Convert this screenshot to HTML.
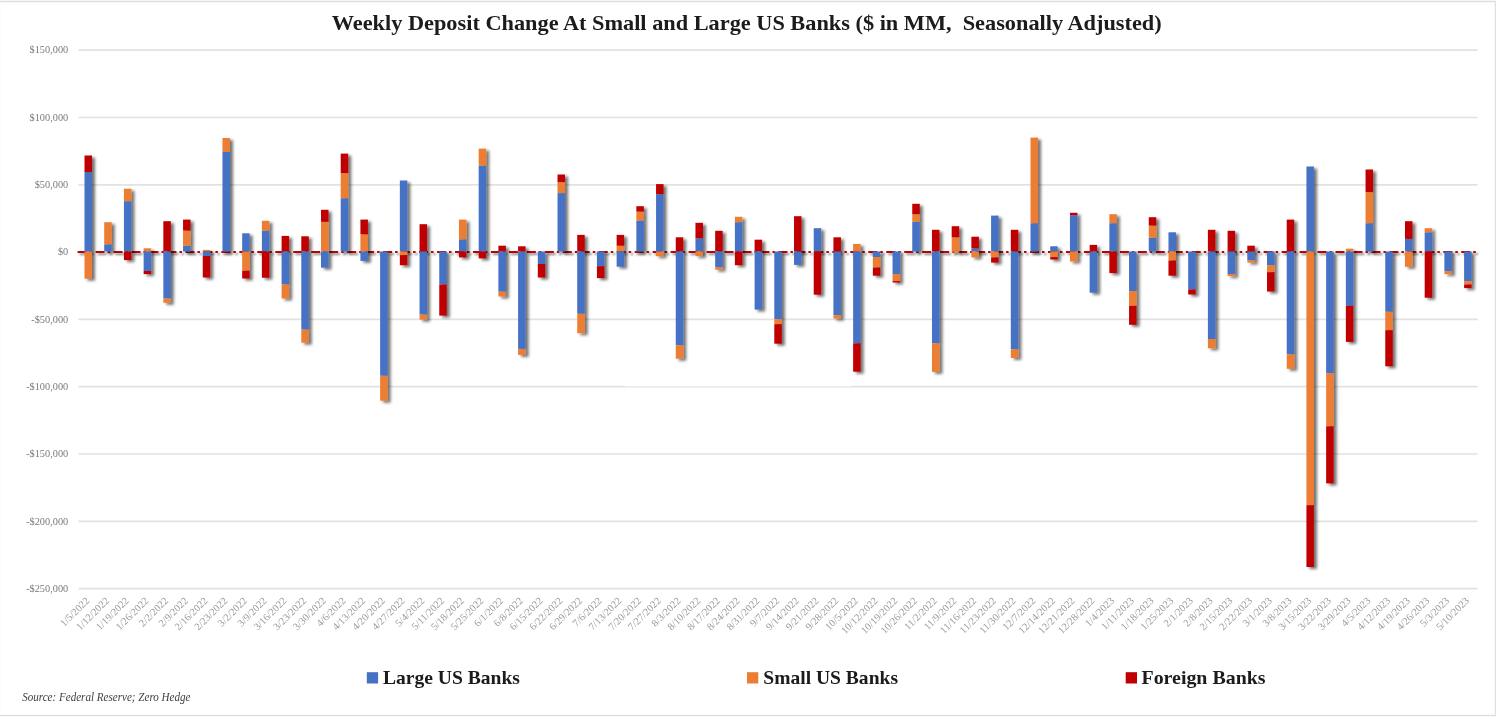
<!DOCTYPE html>
<html lang="en"><head><meta charset="utf-8"><title>Weekly Deposit Change At Small and Large US Banks</title>
<style>
html,body{margin:0;padding:0;background:#fff;}
body{width:1496px;height:719px;overflow:hidden;position:relative;font-family:"Liberation Serif",serif;}
svg{position:absolute;left:0;top:0;display:block;}
text{font-family:"Liberation Serif",serif;}
.t{font-weight:bold;fill:#1a1a1a;}
.yl{fill:#7a7a7a;}
.xl{fill:#9a9a9a;}
.lg{font-weight:bold;fill:#1a1a1a;}
.src{font-style:italic;fill:#404040;}
</style></head><body>
<svg width="1496" height="719" viewBox="0 0 1496 719">
<defs>
<filter id="sh" filterUnits="userSpaceOnUse" x="60" y="100" width="1436" height="500"><feGaussianBlur in="SourceAlpha" stdDeviation="1.5"/><feOffset dx="2.5" dy="2.4" result="o"/><feComponentTransfer><feFuncA type="linear" slope="0.55"/></feComponentTransfer><feMerge><feMergeNode/><feMergeNode in="SourceGraphic"/></feMerge></filter>
<filter id="shl" filterUnits="userSpaceOnUse" x="60" y="240" width="1436" height="24"><feGaussianBlur in="SourceAlpha" stdDeviation="0.8"/><feOffset dx="1.5" dy="1.8" result="o"/><feComponentTransfer><feFuncA type="linear" slope="0.5"/></feComponentTransfer><feMerge><feMergeNode/><feMergeNode in="SourceGraphic"/></feMerge></filter>
<filter id="soft" filterUnits="userSpaceOnUse" x="0" y="0" width="1496" height="719"><feGaussianBlur stdDeviation="0.45"/></filter>
</defs>
<rect x="0" y="0" width="1496" height="719" fill="#fff"/>
<rect x="0" y="0" width="1496" height="1" fill="#f6f6f6"/><rect x="0" y="1" width="1496" height="1" fill="#dcdcdc"/><rect x="0" y="2" width="1496" height="1" fill="#f9f9f9"/><rect x="0" y="714" width="1496" height="1" fill="#fafafa"/><rect x="0" y="715" width="1496" height="1" fill="#dcdcdc"/><rect x="0" y="716" width="1496" height="1" fill="#f8f8f8"/><rect x="1495" y="1" width="1" height="715" fill="#e0e0e0"/><rect x="1494" y="2" width="1" height="713" fill="#f7f7f7"/><rect x="0" y="2" width="1" height="713" fill="#fcfcfc"/>
<g filter="url(#soft)">
<line x1="78.4" x2="1477.7" y1="50.20" y2="50.20" stroke="#e2e2e2" stroke-width="1.7"/>
<line x1="78.4" x2="1477.7" y1="117.50" y2="117.50" stroke="#e2e2e2" stroke-width="1.7"/>
<line x1="78.4" x2="1477.7" y1="184.80" y2="184.80" stroke="#e2e2e2" stroke-width="1.7"/>
<line x1="78.4" x2="1477.7" y1="319.40" y2="319.40" stroke="#e2e2e2" stroke-width="1.7"/>
<line x1="78.4" x2="1477.7" y1="386.70" y2="386.70" stroke="#e2e2e2" stroke-width="1.7"/>
<line x1="78.4" x2="1477.7" y1="454.00" y2="454.00" stroke="#e2e2e2" stroke-width="1.7"/>
<line x1="78.4" x2="1477.7" y1="521.30" y2="521.30" stroke="#e2e2e2" stroke-width="1.7"/>
<line x1="78.4" x2="1477.7" y1="588.60" y2="588.60" stroke="#e2e2e2" stroke-width="1.7"/>
<text class="yl" x="68.2" y="53.40" text-anchor="end" font-size="10.3">$150,000</text>
<text class="yl" x="68.2" y="120.70" text-anchor="end" font-size="10.3">$100,000</text>
<text class="yl" x="68.2" y="188.00" text-anchor="end" font-size="10.3">$50,000</text>
<text class="yl" x="68.2" y="255.30" text-anchor="end" font-size="10.3">$0</text>
<text class="yl" x="68.2" y="322.60" text-anchor="end" font-size="10.3">-$50,000</text>
<text class="yl" x="68.2" y="389.90" text-anchor="end" font-size="10.3">-$100,000</text>
<text class="yl" x="68.2" y="457.20" text-anchor="end" font-size="10.3">-$150,000</text>
<text class="yl" x="68.2" y="524.50" text-anchor="end" font-size="10.3">-$200,000</text>
<text class="yl" x="68.2" y="591.80" text-anchor="end" font-size="10.3">-$250,000</text>
<line x1="77.60000000000001" x2="1479.2" y1="252.1" y2="252.1" stroke="#C00000" stroke-width="2.0" stroke-dasharray="9 3 2.5 3.47" filter="url(#shl)"/>
<g filter="url(#sh)">
<rect x="84.50" y="172.10" width="7.5" height="79.40" fill="#4472C4"/>
<rect x="84.50" y="155.50" width="7.5" height="16.60" fill="#C00000"/>
<rect x="84.50" y="251.50" width="7.5" height="27.20" fill="#ED7D31"/>
<rect x="104.21" y="244.30" width="7.5" height="7.20" fill="#4472C4"/>
<rect x="104.21" y="222.20" width="7.5" height="22.10" fill="#ED7D31"/>
<rect x="123.92" y="201.20" width="7.5" height="50.30" fill="#4472C4"/>
<rect x="123.92" y="188.70" width="7.5" height="12.50" fill="#ED7D31"/>
<rect x="123.92" y="251.50" width="7.5" height="8.60" fill="#C00000"/>
<rect x="143.63" y="248.30" width="7.5" height="3.20" fill="#ED7D31"/>
<rect x="143.63" y="251.50" width="7.5" height="19.50" fill="#4472C4"/>
<rect x="143.63" y="271.00" width="7.5" height="3.10" fill="#C00000"/>
<rect x="163.34" y="221.20" width="7.5" height="30.30" fill="#C00000"/>
<rect x="163.34" y="251.50" width="7.5" height="47.00" fill="#4472C4"/>
<rect x="163.34" y="298.50" width="7.5" height="4.30" fill="#ED7D31"/>
<rect x="183.05" y="245.70" width="7.5" height="5.80" fill="#4472C4"/>
<rect x="183.05" y="230.60" width="7.5" height="15.10" fill="#ED7D31"/>
<rect x="183.05" y="219.60" width="7.5" height="11.00" fill="#C00000"/>
<rect x="202.75" y="249.90" width="7.5" height="1.60" fill="#ED7D31"/>
<rect x="202.75" y="251.50" width="7.5" height="4.50" fill="#4472C4"/>
<rect x="202.75" y="256.00" width="7.5" height="21.50" fill="#C00000"/>
<rect x="222.46" y="152.00" width="7.5" height="99.50" fill="#4472C4"/>
<rect x="222.46" y="138.00" width="7.5" height="14.00" fill="#ED7D31"/>
<rect x="242.17" y="233.30" width="7.5" height="18.20" fill="#4472C4"/>
<rect x="242.17" y="251.50" width="7.5" height="19.20" fill="#ED7D31"/>
<rect x="242.17" y="270.70" width="7.5" height="7.80" fill="#C00000"/>
<rect x="261.88" y="230.60" width="7.5" height="20.90" fill="#4472C4"/>
<rect x="261.88" y="220.80" width="7.5" height="9.80" fill="#ED7D31"/>
<rect x="261.88" y="251.50" width="7.5" height="26.20" fill="#C00000"/>
<rect x="281.59" y="235.90" width="7.5" height="15.60" fill="#C00000"/>
<rect x="281.59" y="251.50" width="7.5" height="33.00" fill="#4472C4"/>
<rect x="281.59" y="284.50" width="7.5" height="14.00" fill="#ED7D31"/>
<rect x="301.30" y="236.30" width="7.5" height="15.20" fill="#C00000"/>
<rect x="301.30" y="251.50" width="7.5" height="78.10" fill="#4472C4"/>
<rect x="301.30" y="329.60" width="7.5" height="13.10" fill="#ED7D31"/>
<rect x="321.01" y="221.80" width="7.5" height="29.70" fill="#ED7D31"/>
<rect x="321.01" y="209.80" width="7.5" height="12.00" fill="#C00000"/>
<rect x="321.01" y="251.50" width="7.5" height="16.20" fill="#4472C4"/>
<rect x="340.71" y="198.20" width="7.5" height="53.30" fill="#4472C4"/>
<rect x="340.71" y="173.10" width="7.5" height="25.10" fill="#ED7D31"/>
<rect x="340.71" y="153.60" width="7.5" height="19.50" fill="#C00000"/>
<rect x="360.42" y="234.30" width="7.5" height="17.20" fill="#ED7D31"/>
<rect x="360.42" y="219.60" width="7.5" height="14.70" fill="#C00000"/>
<rect x="360.42" y="251.50" width="7.5" height="9.40" fill="#4472C4"/>
<rect x="380.13" y="251.50" width="7.5" height="124.30" fill="#4472C4"/>
<rect x="380.13" y="375.80" width="7.5" height="24.90" fill="#ED7D31"/>
<rect x="399.84" y="180.50" width="7.5" height="71.00" fill="#4472C4"/>
<rect x="399.84" y="251.50" width="7.5" height="3.60" fill="#ED7D31"/>
<rect x="399.84" y="255.10" width="7.5" height="10.10" fill="#C00000"/>
<rect x="419.55" y="224.20" width="7.5" height="27.30" fill="#C00000"/>
<rect x="419.55" y="251.50" width="7.5" height="63.10" fill="#4472C4"/>
<rect x="419.55" y="314.60" width="7.5" height="5.00" fill="#ED7D31"/>
<rect x="439.26" y="251.50" width="7.5" height="33.00" fill="#4472C4"/>
<rect x="439.26" y="284.50" width="7.5" height="31.10" fill="#C00000"/>
<rect x="458.96" y="239.30" width="7.5" height="12.20" fill="#4472C4"/>
<rect x="458.96" y="219.60" width="7.5" height="19.70" fill="#ED7D31"/>
<rect x="458.96" y="251.50" width="7.5" height="5.90" fill="#C00000"/>
<rect x="478.67" y="165.70" width="7.5" height="85.80" fill="#4472C4"/>
<rect x="478.67" y="148.60" width="7.5" height="17.10" fill="#ED7D31"/>
<rect x="478.67" y="251.50" width="7.5" height="6.90" fill="#C00000"/>
<rect x="498.38" y="245.70" width="7.5" height="5.80" fill="#C00000"/>
<rect x="498.38" y="251.50" width="7.5" height="40.20" fill="#4472C4"/>
<rect x="498.38" y="291.70" width="7.5" height="4.80" fill="#ED7D31"/>
<rect x="518.09" y="246.30" width="7.5" height="5.20" fill="#C00000"/>
<rect x="518.09" y="251.50" width="7.5" height="97.40" fill="#4472C4"/>
<rect x="518.09" y="348.90" width="7.5" height="6.00" fill="#ED7D31"/>
<rect x="537.80" y="251.50" width="7.5" height="12.50" fill="#4472C4"/>
<rect x="537.80" y="264.00" width="7.5" height="13.50" fill="#C00000"/>
<rect x="557.51" y="193.10" width="7.5" height="58.40" fill="#4472C4"/>
<rect x="557.51" y="182.10" width="7.5" height="11.00" fill="#ED7D31"/>
<rect x="557.51" y="174.50" width="7.5" height="7.60" fill="#C00000"/>
<rect x="577.22" y="234.90" width="7.5" height="16.60" fill="#C00000"/>
<rect x="577.22" y="251.50" width="7.5" height="62.30" fill="#4472C4"/>
<rect x="577.22" y="313.80" width="7.5" height="19.40" fill="#ED7D31"/>
<rect x="596.92" y="251.50" width="7.5" height="14.70" fill="#4472C4"/>
<rect x="596.92" y="266.20" width="7.5" height="11.90" fill="#C00000"/>
<rect x="616.63" y="245.70" width="7.5" height="5.80" fill="#ED7D31"/>
<rect x="616.63" y="234.90" width="7.5" height="10.80" fill="#C00000"/>
<rect x="616.63" y="251.50" width="7.5" height="15.20" fill="#4472C4"/>
<rect x="636.34" y="220.60" width="7.5" height="30.90" fill="#4472C4"/>
<rect x="636.34" y="211.60" width="7.5" height="9.00" fill="#ED7D31"/>
<rect x="636.34" y="206.20" width="7.5" height="5.40" fill="#C00000"/>
<rect x="656.05" y="194.20" width="7.5" height="57.30" fill="#4472C4"/>
<rect x="656.05" y="184.10" width="7.5" height="10.10" fill="#C00000"/>
<rect x="656.05" y="251.50" width="7.5" height="4.70" fill="#ED7D31"/>
<rect x="675.76" y="237.30" width="7.5" height="14.20" fill="#C00000"/>
<rect x="675.76" y="251.50" width="7.5" height="93.80" fill="#4472C4"/>
<rect x="675.76" y="345.30" width="7.5" height="13.40" fill="#ED7D31"/>
<rect x="695.47" y="238.30" width="7.5" height="13.20" fill="#4472C4"/>
<rect x="695.47" y="222.80" width="7.5" height="15.50" fill="#C00000"/>
<rect x="695.47" y="251.50" width="7.5" height="4.60" fill="#ED7D31"/>
<rect x="715.17" y="230.80" width="7.5" height="20.70" fill="#C00000"/>
<rect x="715.17" y="251.50" width="7.5" height="15.70" fill="#4472C4"/>
<rect x="715.17" y="267.20" width="7.5" height="2.50" fill="#ED7D31"/>
<rect x="734.88" y="222.20" width="7.5" height="29.30" fill="#4472C4"/>
<rect x="734.88" y="216.80" width="7.5" height="5.40" fill="#ED7D31"/>
<rect x="734.88" y="251.50" width="7.5" height="13.70" fill="#C00000"/>
<rect x="754.59" y="239.70" width="7.5" height="11.80" fill="#C00000"/>
<rect x="754.59" y="251.50" width="7.5" height="58.10" fill="#4472C4"/>
<rect x="774.30" y="251.50" width="7.5" height="67.70" fill="#4472C4"/>
<rect x="774.30" y="319.20" width="7.5" height="5.00" fill="#ED7D31"/>
<rect x="774.30" y="324.20" width="7.5" height="19.50" fill="#C00000"/>
<rect x="794.01" y="216.20" width="7.5" height="35.30" fill="#C00000"/>
<rect x="794.01" y="251.50" width="7.5" height="13.40" fill="#4472C4"/>
<rect x="813.72" y="228.20" width="7.5" height="23.30" fill="#4472C4"/>
<rect x="813.72" y="251.50" width="7.5" height="43.20" fill="#C00000"/>
<rect x="833.43" y="237.30" width="7.5" height="14.20" fill="#C00000"/>
<rect x="833.43" y="251.50" width="7.5" height="63.70" fill="#4472C4"/>
<rect x="833.43" y="315.20" width="7.5" height="3.40" fill="#ED7D31"/>
<rect x="853.13" y="243.90" width="7.5" height="7.60" fill="#ED7D31"/>
<rect x="853.13" y="251.50" width="7.5" height="91.80" fill="#4472C4"/>
<rect x="853.13" y="343.30" width="7.5" height="28.40" fill="#C00000"/>
<rect x="872.84" y="251.50" width="7.5" height="5.60" fill="#4472C4"/>
<rect x="872.84" y="257.10" width="7.5" height="10.40" fill="#ED7D31"/>
<rect x="872.84" y="267.50" width="7.5" height="8.20" fill="#C00000"/>
<rect x="892.55" y="251.50" width="7.5" height="22.60" fill="#4472C4"/>
<rect x="892.55" y="274.10" width="7.5" height="7.00" fill="#ED7D31"/>
<rect x="892.55" y="281.10" width="7.5" height="1.40" fill="#C00000"/>
<rect x="912.26" y="221.80" width="7.5" height="29.70" fill="#4472C4"/>
<rect x="912.26" y="214.20" width="7.5" height="7.60" fill="#ED7D31"/>
<rect x="912.26" y="203.80" width="7.5" height="10.40" fill="#C00000"/>
<rect x="931.97" y="229.80" width="7.5" height="21.70" fill="#C00000"/>
<rect x="931.97" y="251.50" width="7.5" height="91.80" fill="#4472C4"/>
<rect x="931.97" y="343.30" width="7.5" height="28.60" fill="#ED7D31"/>
<rect x="951.68" y="237.30" width="7.5" height="14.20" fill="#ED7D31"/>
<rect x="951.68" y="226.20" width="7.5" height="11.10" fill="#C00000"/>
<rect x="951.68" y="251.50" width="7.5" height="1.00" fill="#ED7D31"/>
<rect x="971.38" y="248.30" width="7.5" height="3.20" fill="#4472C4"/>
<rect x="971.38" y="236.70" width="7.5" height="11.60" fill="#C00000"/>
<rect x="971.38" y="251.50" width="7.5" height="5.90" fill="#ED7D31"/>
<rect x="991.09" y="215.60" width="7.5" height="35.90" fill="#4472C4"/>
<rect x="991.09" y="251.50" width="7.5" height="5.90" fill="#ED7D31"/>
<rect x="991.09" y="257.40" width="7.5" height="5.20" fill="#C00000"/>
<rect x="1010.80" y="229.80" width="7.5" height="21.70" fill="#C00000"/>
<rect x="1010.80" y="251.50" width="7.5" height="97.80" fill="#4472C4"/>
<rect x="1010.80" y="349.30" width="7.5" height="8.60" fill="#ED7D31"/>
<rect x="1030.51" y="223.20" width="7.5" height="28.30" fill="#4472C4"/>
<rect x="1030.51" y="137.60" width="7.5" height="85.60" fill="#ED7D31"/>
<rect x="1050.22" y="246.30" width="7.5" height="5.20" fill="#4472C4"/>
<rect x="1050.22" y="251.50" width="7.5" height="5.60" fill="#ED7D31"/>
<rect x="1050.22" y="257.10" width="7.5" height="2.40" fill="#C00000"/>
<rect x="1069.93" y="215.20" width="7.5" height="36.30" fill="#4472C4"/>
<rect x="1069.93" y="212.80" width="7.5" height="2.40" fill="#C00000"/>
<rect x="1069.93" y="251.50" width="7.5" height="10.00" fill="#ED7D31"/>
<rect x="1089.64" y="244.90" width="7.5" height="6.60" fill="#C00000"/>
<rect x="1089.64" y="251.50" width="7.5" height="41.20" fill="#4472C4"/>
<rect x="1109.34" y="223.20" width="7.5" height="28.30" fill="#4472C4"/>
<rect x="1109.34" y="214.20" width="7.5" height="9.00" fill="#ED7D31"/>
<rect x="1109.34" y="251.50" width="7.5" height="21.60" fill="#C00000"/>
<rect x="1129.05" y="251.50" width="7.5" height="39.60" fill="#4472C4"/>
<rect x="1129.05" y="291.10" width="7.5" height="14.70" fill="#ED7D31"/>
<rect x="1129.05" y="305.80" width="7.5" height="19.00" fill="#C00000"/>
<rect x="1148.76" y="237.70" width="7.5" height="13.80" fill="#4472C4"/>
<rect x="1148.76" y="225.60" width="7.5" height="12.10" fill="#ED7D31"/>
<rect x="1148.76" y="217.20" width="7.5" height="8.40" fill="#C00000"/>
<rect x="1168.47" y="232.30" width="7.5" height="19.20" fill="#4472C4"/>
<rect x="1168.47" y="251.50" width="7.5" height="9.00" fill="#ED7D31"/>
<rect x="1168.47" y="260.50" width="7.5" height="15.20" fill="#C00000"/>
<rect x="1188.18" y="251.50" width="7.5" height="37.90" fill="#4472C4"/>
<rect x="1188.18" y="289.40" width="7.5" height="5.10" fill="#C00000"/>
<rect x="1207.89" y="229.80" width="7.5" height="21.70" fill="#C00000"/>
<rect x="1207.89" y="251.50" width="7.5" height="87.50" fill="#4472C4"/>
<rect x="1207.89" y="339.00" width="7.5" height="9.30" fill="#ED7D31"/>
<rect x="1227.59" y="230.80" width="7.5" height="20.70" fill="#C00000"/>
<rect x="1227.59" y="251.50" width="7.5" height="22.60" fill="#4472C4"/>
<rect x="1227.59" y="274.10" width="7.5" height="2.00" fill="#ED7D31"/>
<rect x="1247.30" y="245.70" width="7.5" height="5.80" fill="#C00000"/>
<rect x="1247.30" y="251.50" width="7.5" height="8.80" fill="#4472C4"/>
<rect x="1247.30" y="260.30" width="7.5" height="2.30" fill="#ED7D31"/>
<rect x="1267.01" y="251.50" width="7.5" height="13.70" fill="#4472C4"/>
<rect x="1267.01" y="265.20" width="7.5" height="7.00" fill="#ED7D31"/>
<rect x="1267.01" y="272.20" width="7.5" height="19.30" fill="#C00000"/>
<rect x="1286.72" y="219.60" width="7.5" height="31.90" fill="#C00000"/>
<rect x="1286.72" y="251.50" width="7.5" height="102.90" fill="#4472C4"/>
<rect x="1286.72" y="354.40" width="7.5" height="14.40" fill="#ED7D31"/>
<rect x="1306.43" y="166.50" width="7.5" height="85.00" fill="#4472C4"/>
<rect x="1306.43" y="251.50" width="7.5" height="253.70" fill="#ED7D31"/>
<rect x="1306.43" y="505.20" width="7.5" height="61.80" fill="#C00000"/>
<rect x="1326.14" y="251.50" width="7.5" height="121.80" fill="#4472C4"/>
<rect x="1326.14" y="373.30" width="7.5" height="53.00" fill="#ED7D31"/>
<rect x="1326.14" y="426.30" width="7.5" height="57.10" fill="#C00000"/>
<rect x="1345.85" y="248.70" width="7.5" height="2.80" fill="#ED7D31"/>
<rect x="1345.85" y="251.50" width="7.5" height="54.30" fill="#4472C4"/>
<rect x="1345.85" y="305.80" width="7.5" height="36.10" fill="#C00000"/>
<rect x="1365.55" y="223.20" width="7.5" height="28.30" fill="#4472C4"/>
<rect x="1365.55" y="192.10" width="7.5" height="31.10" fill="#ED7D31"/>
<rect x="1365.55" y="169.50" width="7.5" height="22.60" fill="#C00000"/>
<rect x="1385.26" y="251.50" width="7.5" height="60.30" fill="#4472C4"/>
<rect x="1385.26" y="311.80" width="7.5" height="18.40" fill="#ED7D31"/>
<rect x="1385.26" y="330.20" width="7.5" height="36.10" fill="#C00000"/>
<rect x="1404.97" y="238.90" width="7.5" height="12.60" fill="#4472C4"/>
<rect x="1404.97" y="221.20" width="7.5" height="17.70" fill="#C00000"/>
<rect x="1404.97" y="251.50" width="7.5" height="15.30" fill="#ED7D31"/>
<rect x="1424.68" y="232.30" width="7.5" height="19.20" fill="#4472C4"/>
<rect x="1424.68" y="228.20" width="7.5" height="4.10" fill="#ED7D31"/>
<rect x="1424.68" y="251.50" width="7.5" height="46.20" fill="#C00000"/>
<rect x="1444.39" y="251.50" width="7.5" height="19.60" fill="#4472C4"/>
<rect x="1444.39" y="271.10" width="7.5" height="3.00" fill="#ED7D31"/>
<rect x="1464.10" y="251.50" width="7.5" height="29.60" fill="#4472C4"/>
<rect x="1464.10" y="281.10" width="7.5" height="3.40" fill="#ED7D31"/>
<rect x="1464.10" y="284.50" width="7.5" height="3.60" fill="#C00000"/>
</g>
<rect x="625" y="368" width="226" height="18.4" fill="#fff"/>
<text class="xl" transform="translate(87.95 599.2) rotate(-45)" text-anchor="end" font-size="10.3" x="0" y="3">1/5/2022</text>
<text class="xl" transform="translate(107.66 599.2) rotate(-45)" text-anchor="end" font-size="10.3" x="0" y="3">1/12/2022</text>
<text class="xl" transform="translate(127.37 599.2) rotate(-45)" text-anchor="end" font-size="10.3" x="0" y="3">1/19/2022</text>
<text class="xl" transform="translate(147.08 599.2) rotate(-45)" text-anchor="end" font-size="10.3" x="0" y="3">1/26/2022</text>
<text class="xl" transform="translate(166.79 599.2) rotate(-45)" text-anchor="end" font-size="10.3" x="0" y="3">2/2/2022</text>
<text class="xl" transform="translate(186.50 599.2) rotate(-45)" text-anchor="end" font-size="10.3" x="0" y="3">2/9/2022</text>
<text class="xl" transform="translate(206.20 599.2) rotate(-45)" text-anchor="end" font-size="10.3" x="0" y="3">2/16/2022</text>
<text class="xl" transform="translate(225.91 599.2) rotate(-45)" text-anchor="end" font-size="10.3" x="0" y="3">2/23/2022</text>
<text class="xl" transform="translate(245.62 599.2) rotate(-45)" text-anchor="end" font-size="10.3" x="0" y="3">3/2/2022</text>
<text class="xl" transform="translate(265.33 599.2) rotate(-45)" text-anchor="end" font-size="10.3" x="0" y="3">3/9/2022</text>
<text class="xl" transform="translate(285.04 599.2) rotate(-45)" text-anchor="end" font-size="10.3" x="0" y="3">3/16/2022</text>
<text class="xl" transform="translate(304.75 599.2) rotate(-45)" text-anchor="end" font-size="10.3" x="0" y="3">3/23/2022</text>
<text class="xl" transform="translate(324.46 599.2) rotate(-45)" text-anchor="end" font-size="10.3" x="0" y="3">3/30/2022</text>
<text class="xl" transform="translate(344.16 599.2) rotate(-45)" text-anchor="end" font-size="10.3" x="0" y="3">4/6/2022</text>
<text class="xl" transform="translate(363.87 599.2) rotate(-45)" text-anchor="end" font-size="10.3" x="0" y="3">4/13/2022</text>
<text class="xl" transform="translate(383.58 599.2) rotate(-45)" text-anchor="end" font-size="10.3" x="0" y="3">4/20/2022</text>
<text class="xl" transform="translate(403.29 599.2) rotate(-45)" text-anchor="end" font-size="10.3" x="0" y="3">4/27/2022</text>
<text class="xl" transform="translate(423.00 599.2) rotate(-45)" text-anchor="end" font-size="10.3" x="0" y="3">5/4/2022</text>
<text class="xl" transform="translate(442.71 599.2) rotate(-45)" text-anchor="end" font-size="10.3" x="0" y="3">5/11/2022</text>
<text class="xl" transform="translate(462.41 599.2) rotate(-45)" text-anchor="end" font-size="10.3" x="0" y="3">5/18/2022</text>
<text class="xl" transform="translate(482.12 599.2) rotate(-45)" text-anchor="end" font-size="10.3" x="0" y="3">5/25/2022</text>
<text class="xl" transform="translate(501.83 599.2) rotate(-45)" text-anchor="end" font-size="10.3" x="0" y="3">6/1/2022</text>
<text class="xl" transform="translate(521.54 599.2) rotate(-45)" text-anchor="end" font-size="10.3" x="0" y="3">6/8/2022</text>
<text class="xl" transform="translate(541.25 599.2) rotate(-45)" text-anchor="end" font-size="10.3" x="0" y="3">6/15/2022</text>
<text class="xl" transform="translate(560.96 599.2) rotate(-45)" text-anchor="end" font-size="10.3" x="0" y="3">6/22/2022</text>
<text class="xl" transform="translate(580.67 599.2) rotate(-45)" text-anchor="end" font-size="10.3" x="0" y="3">6/29/2022</text>
<text class="xl" transform="translate(600.37 599.2) rotate(-45)" text-anchor="end" font-size="10.3" x="0" y="3">7/6/2022</text>
<text class="xl" transform="translate(620.08 599.2) rotate(-45)" text-anchor="end" font-size="10.3" x="0" y="3">7/13/2022</text>
<text class="xl" transform="translate(639.79 599.2) rotate(-45)" text-anchor="end" font-size="10.3" x="0" y="3">7/20/2022</text>
<text class="xl" transform="translate(659.50 599.2) rotate(-45)" text-anchor="end" font-size="10.3" x="0" y="3">7/27/2022</text>
<text class="xl" transform="translate(679.21 599.2) rotate(-45)" text-anchor="end" font-size="10.3" x="0" y="3">8/3/2022</text>
<text class="xl" transform="translate(698.92 599.2) rotate(-45)" text-anchor="end" font-size="10.3" x="0" y="3">8/10/2022</text>
<text class="xl" transform="translate(718.62 599.2) rotate(-45)" text-anchor="end" font-size="10.3" x="0" y="3">8/17/2022</text>
<text class="xl" transform="translate(738.33 599.2) rotate(-45)" text-anchor="end" font-size="10.3" x="0" y="3">8/24/2022</text>
<text class="xl" transform="translate(758.04 599.2) rotate(-45)" text-anchor="end" font-size="10.3" x="0" y="3">8/31/2022</text>
<text class="xl" transform="translate(777.75 599.2) rotate(-45)" text-anchor="end" font-size="10.3" x="0" y="3">9/7/2022</text>
<text class="xl" transform="translate(797.46 599.2) rotate(-45)" text-anchor="end" font-size="10.3" x="0" y="3">9/14/2022</text>
<text class="xl" transform="translate(817.17 599.2) rotate(-45)" text-anchor="end" font-size="10.3" x="0" y="3">9/21/2022</text>
<text class="xl" transform="translate(836.88 599.2) rotate(-45)" text-anchor="end" font-size="10.3" x="0" y="3">9/28/2022</text>
<text class="xl" transform="translate(856.58 599.2) rotate(-45)" text-anchor="end" font-size="10.3" x="0" y="3">10/5/2022</text>
<text class="xl" transform="translate(876.29 599.2) rotate(-45)" text-anchor="end" font-size="10.3" x="0" y="3">10/12/2022</text>
<text class="xl" transform="translate(896.00 599.2) rotate(-45)" text-anchor="end" font-size="10.3" x="0" y="3">10/19/2022</text>
<text class="xl" transform="translate(915.71 599.2) rotate(-45)" text-anchor="end" font-size="10.3" x="0" y="3">10/26/2022</text>
<text class="xl" transform="translate(935.42 599.2) rotate(-45)" text-anchor="end" font-size="10.3" x="0" y="3">11/2/2022</text>
<text class="xl" transform="translate(955.13 599.2) rotate(-45)" text-anchor="end" font-size="10.3" x="0" y="3">11/9/2022</text>
<text class="xl" transform="translate(974.83 599.2) rotate(-45)" text-anchor="end" font-size="10.3" x="0" y="3">11/16/2022</text>
<text class="xl" transform="translate(994.54 599.2) rotate(-45)" text-anchor="end" font-size="10.3" x="0" y="3">11/23/2022</text>
<text class="xl" transform="translate(1014.25 599.2) rotate(-45)" text-anchor="end" font-size="10.3" x="0" y="3">11/30/2022</text>
<text class="xl" transform="translate(1033.96 599.2) rotate(-45)" text-anchor="end" font-size="10.3" x="0" y="3">12/7/2022</text>
<text class="xl" transform="translate(1053.67 599.2) rotate(-45)" text-anchor="end" font-size="10.3" x="0" y="3">12/14/2022</text>
<text class="xl" transform="translate(1073.38 599.2) rotate(-45)" text-anchor="end" font-size="10.3" x="0" y="3">12/21/2022</text>
<text class="xl" transform="translate(1093.09 599.2) rotate(-45)" text-anchor="end" font-size="10.3" x="0" y="3">12/28/2022</text>
<text class="xl" transform="translate(1112.79 599.2) rotate(-45)" text-anchor="end" font-size="10.3" x="0" y="3">1/4/2023</text>
<text class="xl" transform="translate(1132.50 599.2) rotate(-45)" text-anchor="end" font-size="10.3" x="0" y="3">1/11/2023</text>
<text class="xl" transform="translate(1152.21 599.2) rotate(-45)" text-anchor="end" font-size="10.3" x="0" y="3">1/18/2023</text>
<text class="xl" transform="translate(1171.92 599.2) rotate(-45)" text-anchor="end" font-size="10.3" x="0" y="3">1/25/2023</text>
<text class="xl" transform="translate(1191.63 599.2) rotate(-45)" text-anchor="end" font-size="10.3" x="0" y="3">2/1/2023</text>
<text class="xl" transform="translate(1211.34 599.2) rotate(-45)" text-anchor="end" font-size="10.3" x="0" y="3">2/8/2023</text>
<text class="xl" transform="translate(1231.04 599.2) rotate(-45)" text-anchor="end" font-size="10.3" x="0" y="3">2/15/2023</text>
<text class="xl" transform="translate(1250.75 599.2) rotate(-45)" text-anchor="end" font-size="10.3" x="0" y="3">2/22/2023</text>
<text class="xl" transform="translate(1270.46 599.2) rotate(-45)" text-anchor="end" font-size="10.3" x="0" y="3">3/1/2023</text>
<text class="xl" transform="translate(1290.17 599.2) rotate(-45)" text-anchor="end" font-size="10.3" x="0" y="3">3/8/2023</text>
<text class="xl" transform="translate(1309.88 599.2) rotate(-45)" text-anchor="end" font-size="10.3" x="0" y="3">3/15/2023</text>
<text class="xl" transform="translate(1329.59 599.2) rotate(-45)" text-anchor="end" font-size="10.3" x="0" y="3">3/22/2023</text>
<text class="xl" transform="translate(1349.30 599.2) rotate(-45)" text-anchor="end" font-size="10.3" x="0" y="3">3/29/2023</text>
<text class="xl" transform="translate(1369.00 599.2) rotate(-45)" text-anchor="end" font-size="10.3" x="0" y="3">4/5/2023</text>
<text class="xl" transform="translate(1388.71 599.2) rotate(-45)" text-anchor="end" font-size="10.3" x="0" y="3">4/12/2023</text>
<text class="xl" transform="translate(1408.42 599.2) rotate(-45)" text-anchor="end" font-size="10.3" x="0" y="3">4/19/2023</text>
<text class="xl" transform="translate(1428.13 599.2) rotate(-45)" text-anchor="end" font-size="10.3" x="0" y="3">4/26/2023</text>
<text class="xl" transform="translate(1447.84 599.2) rotate(-45)" text-anchor="end" font-size="10.3" x="0" y="3">5/3/2023</text>
<text class="xl" transform="translate(1467.55 599.2) rotate(-45)" text-anchor="end" font-size="10.3" x="0" y="3">5/10/2023</text>
<text class="t" x="331.7" y="29.6" font-size="21.5" textLength="830" lengthAdjust="spacingAndGlyphs" xml:space="preserve" style="white-space:pre">Weekly Deposit Change At Small and Large US Banks ($ in MM,  Seasonally Adjusted)</text>
<rect x="366.8" y="672.2" width="11.3" height="11.3" fill="#4472C4"/>
<text class="lg" x="382.9" y="683.5" font-size="19.5" textLength="137" lengthAdjust="spacingAndGlyphs">Large US Banks</text>
<rect x="747" y="672.2" width="11.3" height="11.3" fill="#ED7D31"/>
<text class="lg" x="763.3" y="683.5" font-size="19.5" textLength="134.7" lengthAdjust="spacingAndGlyphs">Small US Banks</text>
<rect x="1125.7" y="672.2" width="11.3" height="11.3" fill="#C00000"/>
<text class="lg" x="1141.5" y="683.5" font-size="19.5" textLength="124" lengthAdjust="spacingAndGlyphs">Foreign Banks</text>
<text class="src" x="22.2" y="700.8" font-size="12.8" textLength="168.3" lengthAdjust="spacingAndGlyphs">Source: Federal Reserve; Zero Hedge</text>
</g>
</svg></body></html>
